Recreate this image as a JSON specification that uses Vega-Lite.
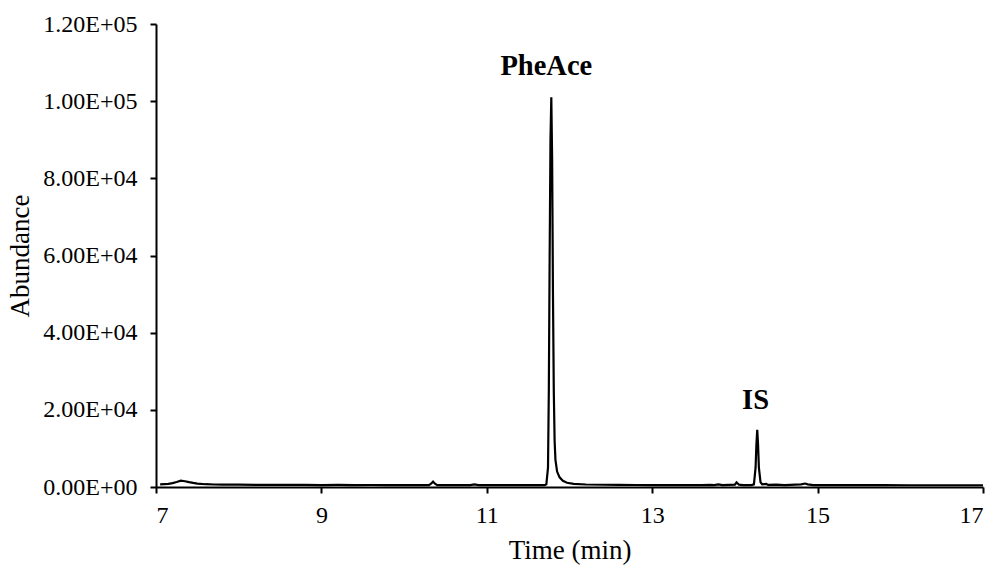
{
  "$schema": "https://vega.github.io/schema/vega-lite/v6.json",
  "width": 827,
  "height": 463,
  "autosize": {"type": "none"},
  "padding": {"left": 156, "top": 24, "right": 17, "bottom": 78},
  "background": "white",
  "config": {
    "view": {"stroke": null},
    "font": "Liberation Serif",
    "axis": {
      "grid": false,
      "domainColor": "black",
      "domainWidth": 2,
      "tickColor": "black",
      "tickWidth": 2,
      "tickSize": 6,
      "labelColor": "black",
      "labelFont": "Liberation Serif",
      "labelFontSize": 24,
      "titleColor": "black",
      "titleFont": "Liberation Serif",
      "titleFontSize": 27,
      "titleFontWeight": "normal"
    }
  },
  "layer": [
    {
      "data": {
        "values": [
          {"t": 7.05, "a": 700}, {"t": 7.1, "a": 750}, {"t": 7.15, "a": 820}, {"t": 7.2, "a": 1000},
          {"t": 7.25, "a": 1300}, {"t": 7.3, "a": 1650}, {"t": 7.35, "a": 1500}, {"t": 7.4, "a": 1250},
          {"t": 7.45, "a": 1050}, {"t": 7.5, "a": 880}, {"t": 7.6, "a": 720}, {"t": 7.7, "a": 650},
          {"t": 7.8, "a": 610}, {"t": 8.0, "a": 600}, {"t": 8.2, "a": 560}, {"t": 8.4, "a": 570},
          {"t": 8.6, "a": 530}, {"t": 8.8, "a": 540}, {"t": 9.0, "a": 510}, {"t": 9.2, "a": 530},
          {"t": 9.4, "a": 500}, {"t": 9.6, "a": 515}, {"t": 9.8, "a": 495}, {"t": 10.0, "a": 505},
          {"t": 10.2, "a": 485}, {"t": 10.3, "a": 500}, {"t": 10.33, "a": 900}, {"t": 10.35, "a": 1400},
          {"t": 10.37, "a": 900}, {"t": 10.4, "a": 500}, {"t": 10.6, "a": 485}, {"t": 10.8, "a": 500},
          {"t": 10.85, "a": 680}, {"t": 10.9, "a": 500}, {"t": 11.0, "a": 480}, {"t": 11.2, "a": 470},
          {"t": 11.4, "a": 470}, {"t": 11.6, "a": 470}, {"t": 11.7, "a": 480}, {"t": 11.72, "a": 700},
          {"t": 11.74, "a": 5000}, {"t": 11.75, "a": 25000}, {"t": 11.76, "a": 60000}, {"t": 11.77, "a": 90000},
          {"t": 11.78, "a": 101000}, {"t": 11.79, "a": 85000}, {"t": 11.8, "a": 50000}, {"t": 11.81, "a": 25000},
          {"t": 11.82, "a": 12000}, {"t": 11.83, "a": 7000}, {"t": 11.85, "a": 4000}, {"t": 11.88, "a": 2500},
          {"t": 11.92, "a": 1600}, {"t": 11.97, "a": 1100}, {"t": 12.05, "a": 800}, {"t": 12.2, "a": 650},
          {"t": 12.4, "a": 580}, {"t": 12.6, "a": 540}, {"t": 12.8, "a": 520}, {"t": 13.0, "a": 500},
          {"t": 13.2, "a": 500}, {"t": 13.4, "a": 490}, {"t": 13.6, "a": 500}, {"t": 13.7, "a": 560},
          {"t": 13.75, "a": 500}, {"t": 13.8, "a": 700}, {"t": 13.85, "a": 500}, {"t": 14.0, "a": 600},
          {"t": 14.02, "a": 1200}, {"t": 14.05, "a": 600}, {"t": 14.1, "a": 500}, {"t": 14.2, "a": 500},
          {"t": 14.23, "a": 700}, {"t": 14.25, "a": 5000}, {"t": 14.26, "a": 11000}, {"t": 14.27, "a": 14800},
          {"t": 14.28, "a": 11000}, {"t": 14.29, "a": 5000}, {"t": 14.31, "a": 1200}, {"t": 14.33, "a": 700},
          {"t": 14.38, "a": 800}, {"t": 14.4, "a": 550}, {"t": 14.5, "a": 600}, {"t": 14.6, "a": 500},
          {"t": 14.8, "a": 700}, {"t": 14.85, "a": 900}, {"t": 14.88, "a": 700}, {"t": 14.95, "a": 500},
          {"t": 15.2, "a": 480}, {"t": 15.5, "a": 470}, {"t": 15.8, "a": 470}, {"t": 16.1, "a": 460},
          {"t": 16.4, "a": 460}, {"t": 16.7, "a": 455}, {"t": 17.0, "a": 450}
        ]
      },
      "mark": {"type": "line", "color": "black", "strokeWidth": 2.2, "clip": true},
      "encoding": {
        "x": {
          "field": "t", "type": "quantitative",
          "scale": {"domain": [7, 17], "nice": false, "zero": false},
          "axis": {
            "values": [7, 9, 11, 13, 15, 17],
            "format": "d",
            "title": "Time (min)",
            "labelPadding": 10,
            "titleBaseline": "alphabetic",
            "titleY": 71
          }
        },
        "y": {
          "field": "a", "type": "quantitative",
          "scale": {"domain": [0, 120000], "nice": false},
          "axis": {
            "values": [0, 20000, 40000, 60000, 80000, 100000, 120000],
            "labelExpr": "replace(upper(format(datum.value, '.2e')), 'E+', 'E+0')",
            "labelPadding": 13,
            "title": "Abundance",
            "titleBaseline": "alphabetic",
            "titleAngle": -90,
            "titleX": -128,
            "titleY": 231.5,
            "titleAlign": "center"
          }
        }
      }
    },
    {
      "data": {
        "values": [
          {"t": 11.72, "a": 106800, "label": "PheAce"},
          {"t": 14.25, "a": 20200, "label": "IS"}
        ]
      },
      "mark": {"type": "text", "font": "Liberation Serif", "fontSize": 28.5, "fontWeight": "bold", "color": "black", "align": "center", "baseline": "alphabetic"},
      "encoding": {
        "x": {"field": "t", "type": "quantitative"},
        "y": {"field": "a", "type": "quantitative"},
        "text": {"field": "label"}
      }
    }
  ]
}
